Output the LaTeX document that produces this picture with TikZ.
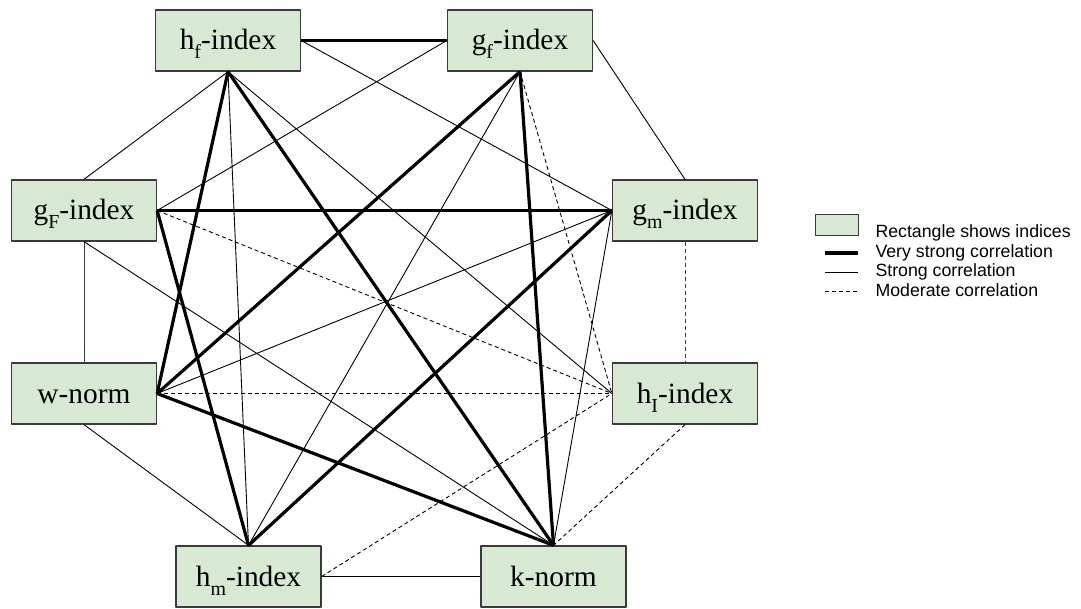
\documentclass[tikz,border=0pt]{standalone}
\usepackage{fontspec}
\setmainfont{Liberation Serif}
\newfontfamily\legendfont{Liberation Sans}
\definecolor{boxfill}{HTML}{D7E9D3}
\definecolor{boxline}{HTML}{3A3A3A}
\newcommand{\lowsub}[1]{\raisebox{-9bp}[0pt][0pt]{\fontsize{20}{20}\selectfont#1}}

\begin{document}
\begin{tikzpicture}[x=1bp,y=-1bp,line join=round,
  index/.style={draw=boxline,fill=boxfill,line width=1.3bp,minimum width=145bp,
    minimum height=61bp,inner sep=0pt,text height=19bp,text depth=0pt,
    font=\fontsize{29.5}{32}\selectfont},
  verystrong/.style={line width=3.2bp},
  strong/.style={line width=.9bp},
  moderate/.style={line width=.9bp,dash pattern=on 4bp off 3bp},
  keytext/.style={anchor=west,font=\legendfont\fontsize{17.8}{20}\selectfont}]
  \useasboundingbox (0,0) rectangle (1081,609);
  % indices
  \node[index] (hfidx) at (228,40.5) {h\lowsub{f}-index};
  \node[index] (gfidx) at (520,40.5) {g\lowsub{f}-index};
  \node[index] (gFidx) at (84,210.5) {g\lowsub{F}-index};
  \node[index] (gmidx) at (685,210.5) {g\lowsub{m}-index};
  \node[index] (wnorm) at (84,393.5) {w-norm};
  \node[index] (hIidx) at (685,393.5) {h\lowsub{I}-index};
  \node[index] (hmidx) at (248.5,576.5) {h\lowsub{m}-index};
  \node[index] (knorm) at (553.5,576.5) {k-norm};
  % correlations
  \foreach \from/\to in {hfidx.east/gfidx.west,hfidx.south/wnorm.east,
    hfidx.south/knorm.north,gfidx.south/wnorm.east,gfidx.south/knorm.north,
    gFidx.east/gmidx.west,gFidx.east/hmidx.north,gmidx.west/hmidx.north,
    wnorm.east/knorm.north}
    \draw[verystrong] (\from) -- (\to);
  \foreach \from/\to in {hfidx.south/gFidx.north,hfidx.south/hmidx.north,
    hfidx.south/hIidx.west,hfidx.east/gmidx.west,gfidx.west/gFidx.east,
    gfidx.south/hmidx.north,gfidx.east/gmidx.north,gFidx.south/knorm.north,
    gmidx.west/wnorm.east,gmidx.west/knorm.north,wnorm.south/hmidx.north,
    hmidx.east/knorm.west}
    \draw[strong] (\from) -- (\to);
  \draw[strong,draw=boxline] (gFidx.south) -- (wnorm.north);
  \foreach \from/\to in {gfidx.south/hIidx.west,gFidx.east/hIidx.west,
    wnorm.east/hIidx.west,hmidx.east/hIidx.west,hIidx.south/knorm.north}
    \draw[moderate] (\from) -- (\to);
  \draw[moderate,draw=boxline] (gmidx.south) -- (hIidx.north);
  % key
  \node[draw=boxline,fill=boxfill,line width=.9bp,minimum width=43bp,
    minimum height=21bp,inner sep=0pt] (keybox) at (836.5,224.5) {};
  \draw[verystrong] (825,253) -- (858,253);
  \draw[strong] (825,272) -- (858,272);
  \draw[moderate] (825,291) -- (858,291);
  \node[keytext] (keyrect) at (872,233) {Rectangle shows indices};
  \node[keytext] (keyvs) at (872,252.5) {Very strong correlation};
  \node[keytext] (keys) at (872,271.5) {Strong correlation};
  \node[keytext] (keym) at (872,290.5) {Moderate correlation};
\end{tikzpicture}
\end{document}
